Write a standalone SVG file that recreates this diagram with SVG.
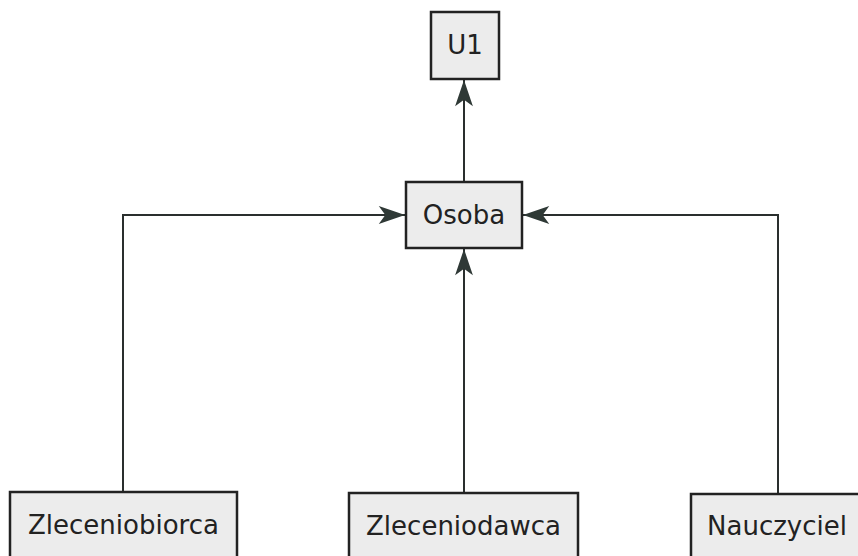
<svg xmlns="http://www.w3.org/2000/svg" width="858" height="556" viewBox="0 0 858 556">
<style>
.box{fill:#ececec;stroke:#222;stroke-width:2.5}
.lbl{font-family:"DejaVu Sans",sans-serif;font-size:26px;fill:#222;text-anchor:middle}
.con{fill:none;stroke:#2a2f2e;stroke-width:2;marker-end:url(#arr)}
</style>
<defs>
<marker id="arr" markerUnits="userSpaceOnUse" markerWidth="30" markerHeight="22" viewBox="-30 -11 32 22" refX="0" refY="0" orient="auto">
<path d="M0,0 L-28,-9.5 L-21,0 L-28,9.5 Z" fill="#2f3936"/>
</marker>
</defs>
<rect width="858" height="556" fill="#fff"/>
<g id="connectors">
<path class="con" d="M464,182 L464,80"/>
<path class="con" d="M123,492 L123,215 L405,215"/>
<path class="con" d="M464,493 L464,249"/>
<path class="con" d="M778,494 L778,215 L523,215"/>
</g>
<g id="U1"><rect class="box" x="431" y="12" width="68" height="67"/><text class="lbl" x="465" y="54">U1</text></g>
<g id="Osoba"><rect class="box" x="406" y="182" width="116" height="66"/><text class="lbl" x="464" y="224">Osoba</text></g>
<g id="Zleceniobiorca"><rect class="box" x="10" y="492" width="227" height="70"/><text class="lbl" x="123.5" y="534">Zleceniobiorca</text></g>
<g id="Zleceniodawca"><rect class="box" x="349" y="493" width="229" height="70"/><text class="lbl" x="463.5" y="535">Zleceniodawca</text></g>
<g id="Nauczyciel"><rect class="box" x="691" y="494" width="172" height="70"/><text class="lbl" x="777" y="535">Nauczyciel</text></g>
</svg>
